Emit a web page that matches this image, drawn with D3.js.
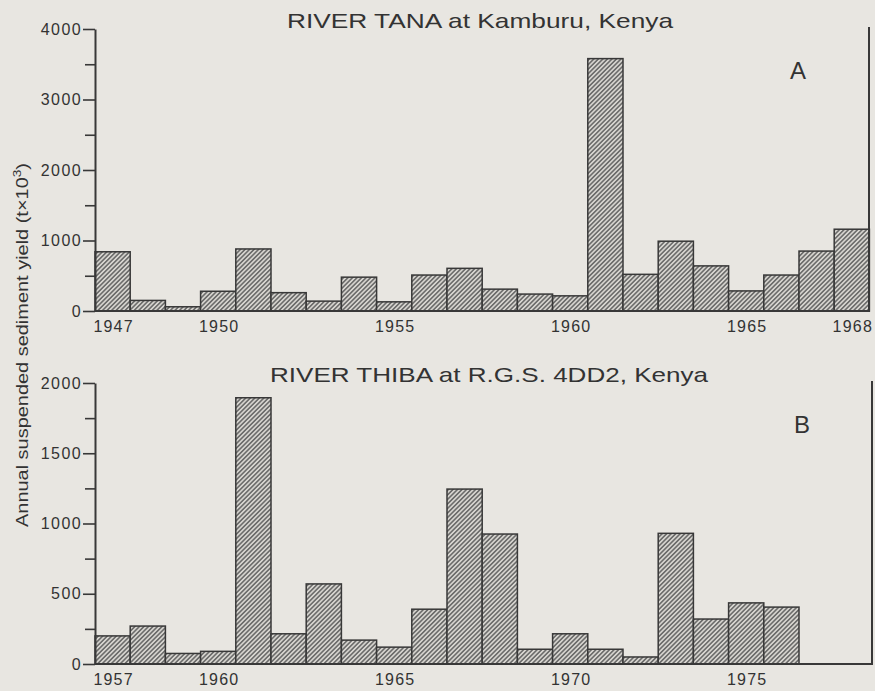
<!DOCTYPE html>
<html>
<head>
<meta charset="utf-8">
<script src="https://cdn.jsdelivr.net/npm/d3@7/dist/d3.min.js"></script>
<style>
  body { margin: 0; background: #e8e6e1; }
  svg { display: block; }
  text { font-family: "Liberation Sans", Arial, sans-serif; fill: #333; }
</style>
</head>
<body>
<div class="chart"></div>
<script>
// River Tana at Kamburu
const yearsA = [1947, 1948, 1949, 1950, 1951, 1952, 1953, 1954, 1955, 1956, 1957,
                1958, 1959, 1960, 1961, 1962, 1963, 1964, 1965, 1966, 1967, 1968]
const yieldA = [840, 150, 60, 280, 880, 260, 140, 480, 130, 510, 605,
                310, 240, 215, 3580, 520, 990, 640, 285, 510, 850, 1160]
const tickYearsA = [1947, 1950, 1955, 1960, 1965, 1968]
const majorTicksA = [0, 1000, 2000, 3000, 4000]
const minorTicksA = [500, 1500, 2500, 3500]

// River Thiba at R.G.S. 4DD2
const yearsB = [1957, 1958, 1959, 1960, 1961, 1962, 1963, 1964, 1965, 1966,
                1967, 1968, 1969, 1970, 1971, 1972, 1973, 1974, 1975, 1976]
const yieldB = [200, 270, 75, 90, 1895, 215, 570, 170, 120, 390,
                1245, 925, 105, 215, 105, 50, 930, 320, 435, 405]
const tickYearsB = [1957, 1960, 1965, 1970, 1975]
const majorTicksB = [0, 500, 1000, 1500, 2000]
const minorTicksB = [250, 750, 1250, 1750]

const width = 875
const height = 691
const axisX = 95
const barWidth = 35.2
const ink = '#383838'

const svg = d3.select('.chart')
    .append('svg')
    .attr('width', width)
    .attr('height', height)

// hatching for the bars
const pattern = svg.append('defs')
    .append('pattern')
    .attr('id', 'hatch')
    .attr('patternUnits', 'userSpaceOnUse')
    .attr('width', 3.2)
    .attr('height', 3.2)
    .attr('patternTransform', 'rotate(45)')
pattern.append('rect')
    .attr('width', 3.2)
    .attr('height', 3.2)
    .attr('fill', '#d6d4cf')
pattern.append('line')
    .attr('x1', 0.8).attr('y1', 0)
    .attr('x2', 0.8).attr('y2', 3.2)
    .attr('stroke', '#555')
    .attr('stroke-width', 1.3)

const styleLabels = (sel, spacing) => sel
    .style('font-size', '16px')
    .style('letter-spacing', spacing)
    .style('font-family', '"Liberation Sans", Arial, sans-serif')
    .attr('fill', '#2e2e2e')

const drawPanel = (p) => {
    const x = d3.scaleBand()
        .domain(p.years)
        .range([axisX, axisX + p.years.length * barWidth])
        .padding(0)
    const y = d3.scaleLinear()
        .domain(p.domain)
        .range([p.bottom, p.top])

    const g = svg.append('g')

    // bars
    g.append('g')
        .selectAll('rect')
        .data(p.values)
        .enter()
        .append('rect')
        .attr('x', (d, i) => x(p.years[i]))
        .attr('y', d => y(d))
        .attr('width', x.bandwidth())
        .attr('height', d => y(0) - y(d))
        .attr('fill', 'url(#hatch)')
        .attr('stroke', ink)
        .attr('stroke-width', 1.5)

    // baseline and right frame line
    g.append('path')
        .attr('d', `M${axisX},${y(0)}H${p.frameX}V${p.frameTop}`)
        .attr('fill', 'none')
        .attr('stroke', ink)
        .attr('stroke-width', 2)

    // y axis, major then minor ticks
    const yAxis = g.append('g')
        .attr('transform', `translate(${axisX},0)`)
        .call(d3.axisLeft(y).tickValues(p.major).tickFormat(d3.format('d'))
            .tickSize(12).tickSizeOuter(0).tickPadding(1))
    yAxis.select('.domain').attr('stroke', ink).attr('stroke-width', 2)
    yAxis.selectAll('.tick line').attr('stroke', ink).attr('stroke-width', 1.6)
    styleLabels(yAxis.selectAll('.tick text'), '1.4px')

    const yMinor = g.append('g')
        .attr('transform', `translate(${axisX},0)`)
        .call(d3.axisLeft(y).tickValues(p.minor).tickSize(10).tickFormat(''))
    yMinor.select('.domain').remove()
    yMinor.selectAll('.tick line').attr('stroke', ink).attr('stroke-width', 1.6)

    // x axis labels
    const xAxis = g.append('g')
        .attr('transform', `translate(0,${y(0)})`)
        .call(d3.axisBottom(x).tickValues(p.ticks).tickFormat(d3.format('d'))
            .tickSize(0).tickPadding(10))
    xAxis.select('.domain').remove()
    styleLabels(xAxis.selectAll('.tick text'), '1.2px')
        .attr('dx', 1)

    // title and panel letter
    g.append('text')
        .attr('x', p.titleX)
        .attr('y', p.titleY)
        .attr('text-anchor', 'middle')
        .attr('textLength', p.titleLength)
        .attr('lengthAdjust', 'spacingAndGlyphs')
        .style('font-size', '21px')
        .text(p.title)

    g.append('text')
        .attr('x', p.letterX)
        .attr('y', p.letterY)
        .attr('text-anchor', 'middle')
        .style('font-size', '24px')
        .text(p.letter)
}

drawPanel({
    years: yearsA, values: yieldA, ticks: tickYearsA,
    major: majorTicksA, minor: minorTicksA, domain: [0, 4000],
    top: 29, bottom: 311, frameX: 869, frameTop: 27,
    title: 'RIVER TANA at Kamburu, Kenya', titleX: 480, titleY: 28, titleLength: 386,
    letter: 'A', letterX: 798, letterY: 79
})

drawPanel({
    years: yearsB, values: yieldB, ticks: tickYearsB,
    major: majorTicksB, minor: minorTicksB, domain: [0, 2000],
    top: 383, bottom: 664, frameX: 872, frameTop: 381,
    title: 'RIVER THIBA at R.G.S. 4DD2, Kenya', titleX: 489, titleY: 382, titleLength: 438,
    letter: 'B', letterX: 802, letterY: 433
})

// shared y label
const yLabel = svg.append('text')
    .attr('transform', 'translate(28,345) rotate(-90)')
    .attr('text-anchor', 'middle')
    .attr('textLength', 364)
    .attr('lengthAdjust', 'spacingAndGlyphs')
    .style('font-size', '16px')
yLabel.append('tspan').text('Annual suspended sediment yield (t\u00d710')
yLabel.append('tspan').attr('dy', -7).style('font-size', '11px').text('3')
yLabel.append('tspan').attr('dy', 7).text(')')
</script>
</body>
</html>
